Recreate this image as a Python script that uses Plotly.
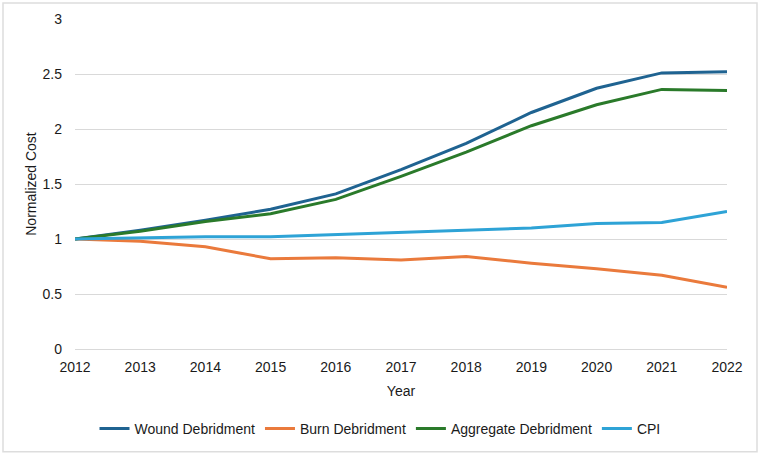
import plotly.graph_objects as go

years = [2012, 2013, 2014, 2015, 2016, 2017, 2018, 2019, 2020, 2021, 2022]
wound = [1.0, 1.08, 1.17, 1.27, 1.41, 1.63, 1.87, 2.15, 2.37, 2.51, 2.52]
burn = [1.0, 0.98, 0.93, 0.82, 0.83, 0.81, 0.84, 0.78, 0.73, 0.67, 0.56]
aggregate = [1.0, 1.07, 1.16, 1.23, 1.36, 1.57, 1.79, 2.03, 2.22, 2.36, 2.35]
cpi = [1.0, 1.01, 1.02, 1.02, 1.04, 1.06, 1.08, 1.10, 1.14, 1.15, 1.25]

series = [
    ("Wound Debridment", wound, "#1f6391"),
    ("Burn Debridment", burn, "#ea7a3c"),
    ("Aggregate Debridment", aggregate, "#2a7a2a"),
    ("CPI", cpi, "#2ea3d6"),
]

fig = go.Figure()
for name, vals, color in series:
    fig.add_trace(go.Scatter(x=years, y=vals, mode="lines", name=name,
                             line=dict(color=color, width=3)))

W, H = 760, 456
ml, mr, mt, mb = 75, 33, 19, 106
pw, ph = W - ml - mr, H - mt - mb

def px(x):
    return (x - ml) / pw

def py(y):
    return (H - mb - y) / ph

fig.add_shape(type="rect", xref="paper", yref="paper",
              x0=px(3), x1=px(757), y0=py(453), y1=py(3),
              line=dict(color="#dddddd", width=1.5), fillcolor="rgba(0,0,0,0)",
              layer="below")

font = "Liberation Sans, Arial, sans-serif"
fig.update_layout(
    width=W, height=H,
    margin=dict(l=ml, r=mr, t=mt, b=mb),
    paper_bgcolor="white", plot_bgcolor="white",
    font=dict(family=font, size=14, color="#1a1a1a"),
    xaxis=dict(range=[2012, 2022], tickmode="array", tickvals=years,
               ticktext=[str(y) for y in years], showgrid=False,
               zeroline=False, showline=False, ticks="",
               ticklabelstandoff=8,
               title=dict(text="Year", font=dict(size=14), standoff=12),
               tickfont=dict(size=14)),
    yaxis=dict(range=[0, 3], tickvals=[0, 0.5, 1, 1.5, 2, 2.5, 3],
               ticktext=["0", "0.5", "1", "1.5", "2", "2.5", "3"],
               showgrid=True, gridcolor="#d9d9d9", gridwidth=1,
               zeroline=True, zerolinecolor="#d9d9d9", zerolinewidth=1,
               showline=False, ticks="", ticklabelstandoff=12,
               title=dict(text="Normalized Cost", font=dict(size=14), standoff=2),
               tickfont=dict(size=14)),
    legend=dict(orientation="h", x=px(380), xanchor="center",
                y=py(429), yanchor="middle", font=dict(size=14),
                itemwidth=30, tracegroupgap=0),
    showlegend=True,
)

fig.write_html("out.html")
